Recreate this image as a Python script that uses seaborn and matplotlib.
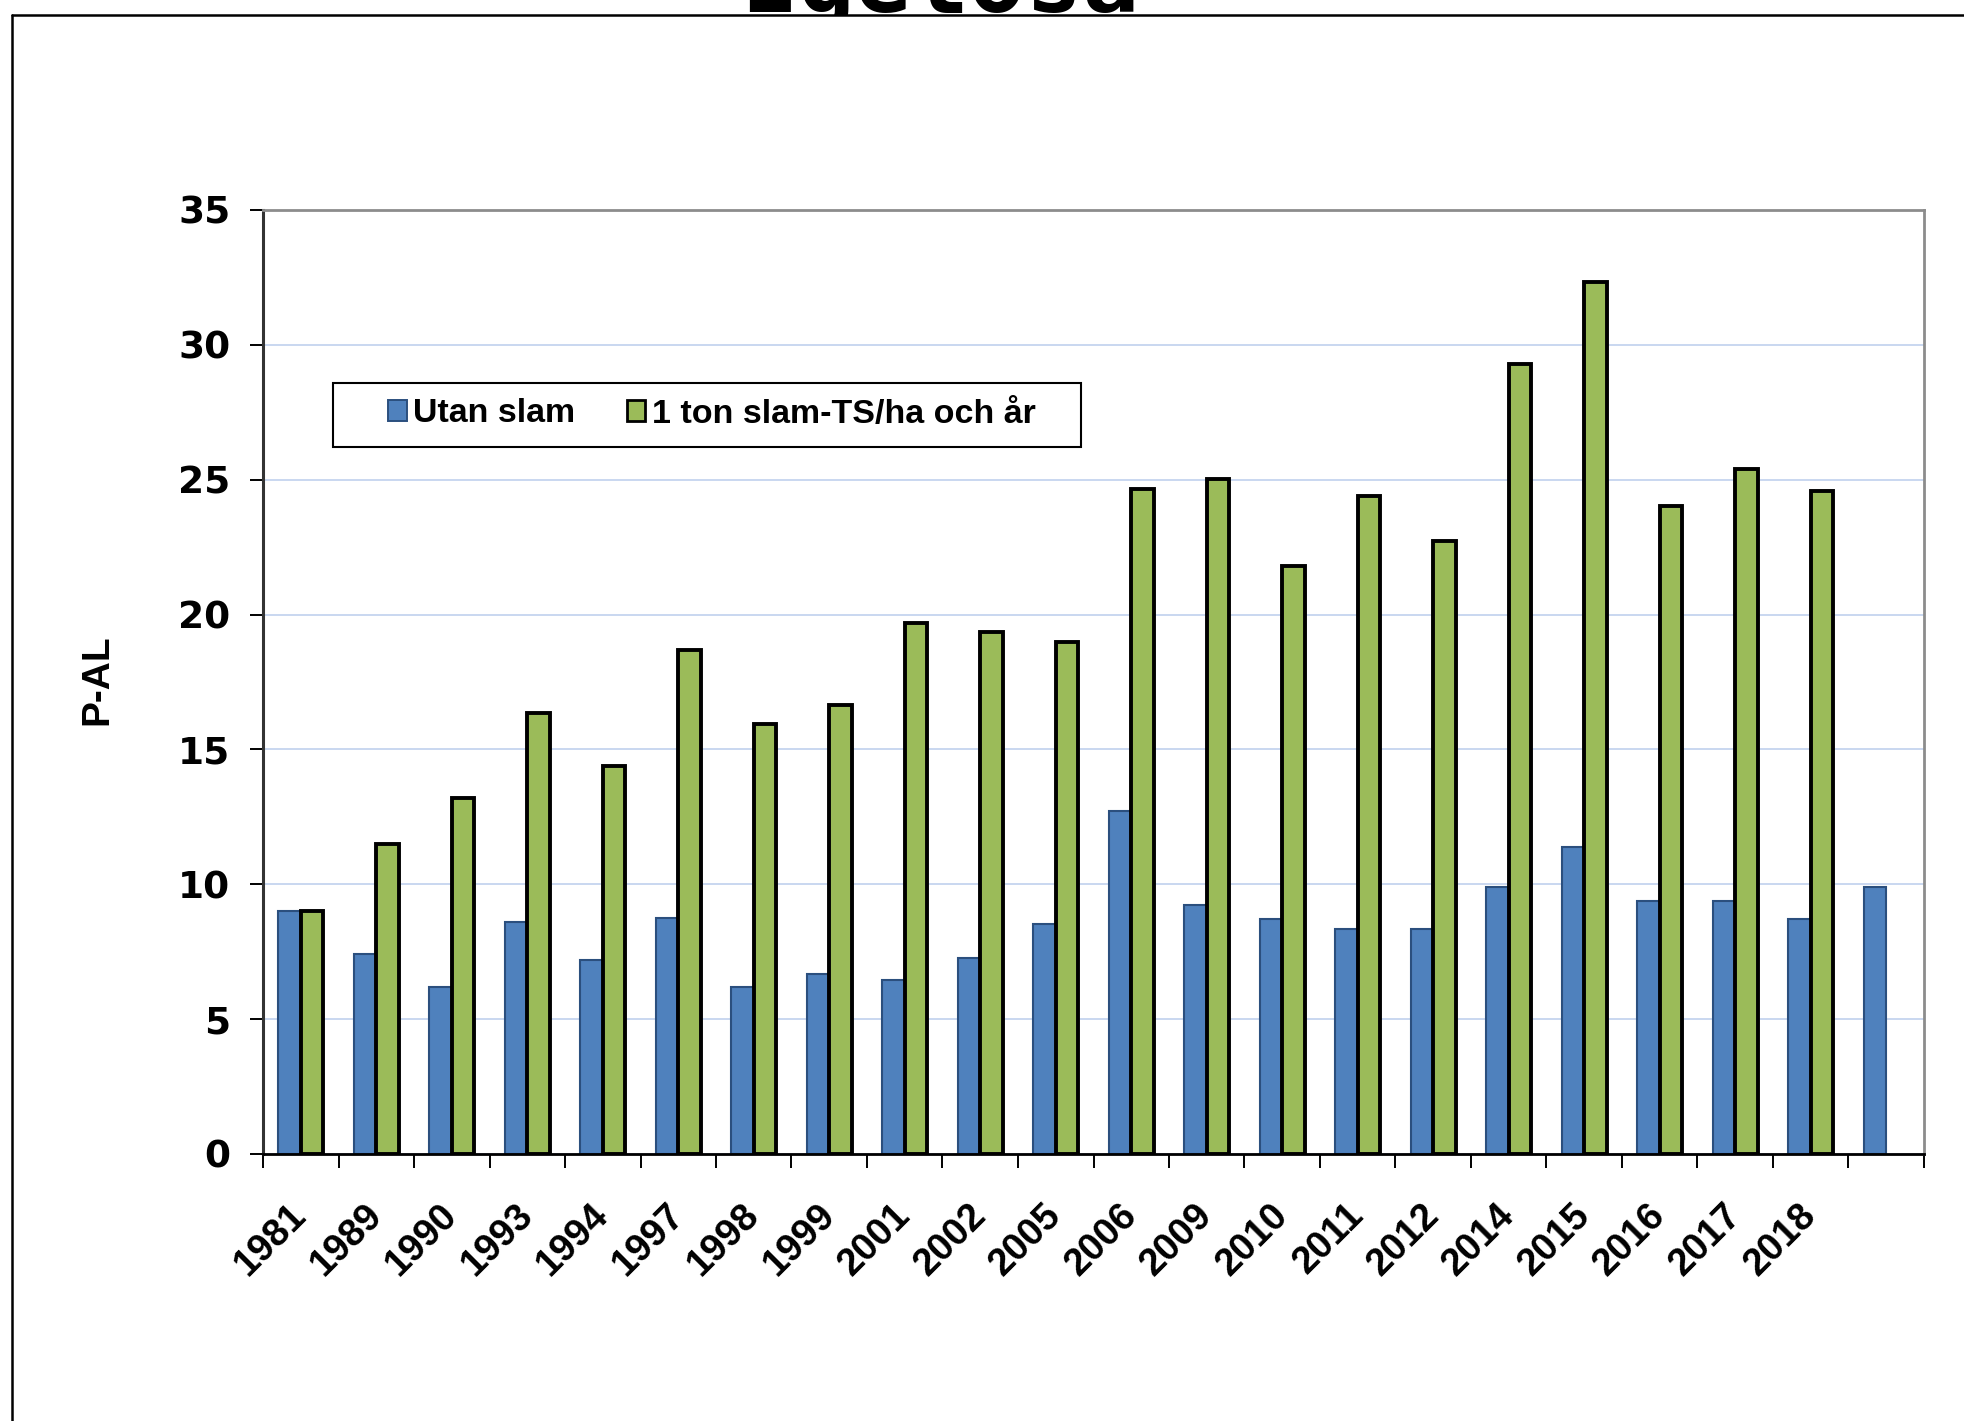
import numpy as np
import pandas as pd
import matplotlib
matplotlib.use("Agg")
import matplotlib.pyplot as plt
import seaborn as sns
from matplotlib.patches import Patch, Rectangle
from matplotlib.lines import Line2D

# ---------------- data ----------------
years = ['1981', '1989', '1990', '1993', '1994', '1997', '1998', '1999', '2001',
         '2002', '2005', '2006', '2009', '2010', '2011', '2012', '2014', '2015',
         '2016', '2017', '2018', '']
utan_slam = [9.0, 7.4, 6.2, 8.6, 7.2, 8.75, 6.2, 6.67, 6.45, 7.28, 8.52, 12.72,
             9.22, 8.73, 8.36, 8.36, 9.91, 11.37, 9.38, 9.38, 8.73, 9.91]
med_slam = [9.0, 11.48, 13.2, 16.35, 14.37, 18.67, 15.95, 16.64, 19.67, 19.36,
            18.97, 24.65, 25.02, 21.81, 24.41, 22.72, 29.29, 32.32, 24.04, 25.41,
            24.57, np.nan]
series_names = ['Utan slam', '1 ton slam-TS/ha och år']
y_ticks = [0, 5, 10, 15, 20, 25, 30, 35]
title_text = 'Igelösa'
ylabel_text = 'P-AL'

# ---------------- style ----------------
BLUE = '#4f81bd'
BLUE_EDGE = '#2b4f7e'
GREEN = '#9bbb59'
GREEN_EDGE = '#000000'
GRID = '#c5d4ef'

sns.set_style('white')
plt.rcParams['font.family'] = ['Liberation Sans', 'DejaVu Sans']
plt.rcParams['text.color'] = 'black'
plt.rcParams['xtick.color'] = 'black'
plt.rcParams['ytick.color'] = 'black'
plt.rcParams['axes.labelcolor'] = 'black'

W, H = 1964, 1421
fig = plt.figure(figsize=(W / 100, H / 100), dpi=100)
ax = fig.add_axes([263 / W, 1 - 1154 / H, (1924 - 263) / W, (1154 - 210) / H])

n = len(years)
df = pd.DataFrame({
    'idx': list(range(n)) * 2,
    'value': utan_slam + med_slam,
    'series': [series_names[0]] * n + [series_names[1]] * n,
})

sns.barplot(data=df, x='idx', y='value', hue='series', hue_order=series_names,
            palette=[BLUE, GREEN], width=0.6, saturation=1, errorbar=None,
            legend=False, ax=ax, zorder=3)

for bar in ax.containers[0]:
    bar.set_edgecolor(BLUE_EDGE)
    bar.set_linewidth(1.5)
for bar in ax.containers[1]:
    bar.set_edgecolor(GREEN_EDGE)
    bar.set_linewidth(2.8)

ax.set_xlim(-0.5, n - 0.5)
ax.set_ylim(0, 35)
ax.set_yticks(y_ticks)
ax.set_yticklabels([str(v) for v in y_ticks], family='DejaVu Sans',
                   weight='bold', fontsize=27)
ax.set_xticks(range(n))
ax.set_xticklabels(years, rotation=45, ha='right', va='center',
                   rotation_mode='anchor', fontsize=27.5, weight='bold')
ax.set_xticks(np.arange(-0.5, n, 1.0), minor=True)
ax.tick_params(axis='x', which='major', length=0, pad=40)
ax.tick_params(axis='x', which='minor', length=10, width=1.4, color='black',
               direction='out', bottom=True)
ax.tick_params(axis='y', which='major', length=9.5, width=1.4, color='black',
               direction='out', left=True, pad=14)
ax.set_xlabel('')
ax.set_ylabel('')

ax.yaxis.grid(True, color=GRID, linewidth=1.3, zorder=0)
ax.xaxis.grid(False)
ax.set_axisbelow(True)

ax.spines['left'].set_color('#333333')
ax.spines['left'].set_linewidth(2.2)
ax.spines['bottom'].set_color('black')
ax.spines['bottom'].set_linewidth(2.0)
for s in ['top', 'right']:
    ax.spines[s].set_color('#8c8c8c')
    ax.spines[s].set_linewidth(2.0)
for s in ax.spines.values():
    s.set_zorder(4)

# y label
fig.text(97 / W, 1 - 680 / H, ylabel_text, rotation=90, ha='center',
         va='center', fontsize=28, weight='bold')

# legend
handles = [Patch(facecolor=BLUE, edgecolor=BLUE_EDGE, linewidth=1.4),
           Patch(facecolor=GREEN, edgecolor=GREEN_EDGE, linewidth=2.0)]
leg = fig.legend(handles, series_names, loc='center',
                 bbox_to_anchor=(712 / W, 1 - 414 / H), ncol=2,
                 frameon=False, prop={'size': 24.5, 'weight': 'bold'},
                 handlelength=0.55, handleheight=0.55, handletextpad=0.2,
                 columnspacing=1.5)
fig.add_artist(Rectangle((333 / W, 1 - 447 / H), (1081 - 333) / W, 64 / H,
                         transform=fig.transFigure, fill=False,
                         edgecolor='black', linewidth=1.5))

# title, mostly cut off by the top edge (as in the reference)
fig.text(940 / W, 1 - 12 / H, title_text, family='DejaVu Sans Mono',
         weight='bold', fontsize=68, ha='center', va='baseline', zorder=1)

# white band below the top border line hides the title's descender
fig.add_artist(Rectangle((600 / W, 1 - 60 / H), 700 / W, 45 / H,
                         transform=fig.transFigure, facecolor='white',
                         edgecolor='none', zorder=2))
# figure border (left and top edges visible)
fig.add_artist(Line2D([12 / W, 12 / W], [-0.05, 1 - 15 / H],
                      transform=fig.transFigure, color='black', linewidth=1.8,
                      zorder=3))
fig.add_artist(Line2D([12 / W, 1.05], [1 - 15 / H, 1 - 15 / H],
                      transform=fig.transFigure, color='black', linewidth=1.8,
                      zorder=3))

fig.savefig('out.png', dpi=100, facecolor='white')
